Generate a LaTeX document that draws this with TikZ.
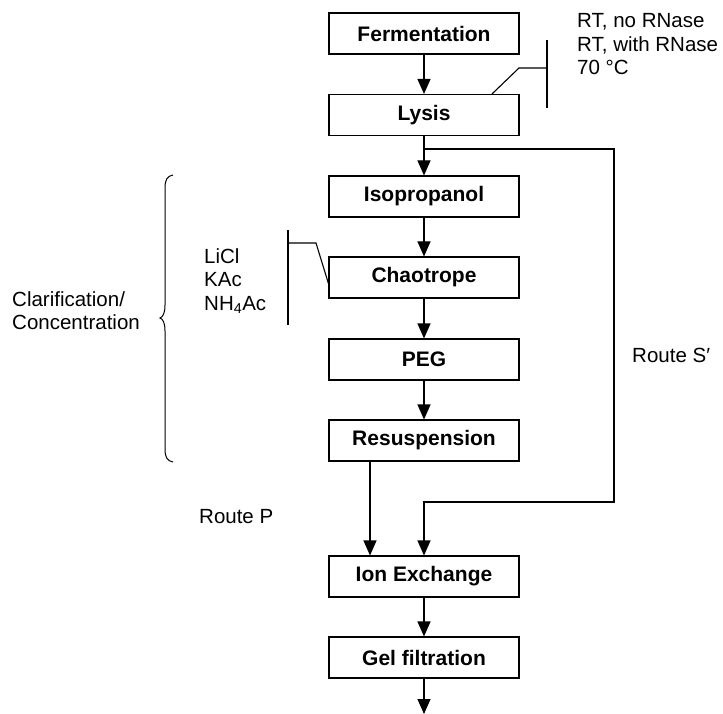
\documentclass[tikz,border=0pt]{standalone}
\usepackage{fontspec}
\setmainfont{Liberation Sans}
\usetikzlibrary{arrows.meta}
\begin{document}
\begin{tikzpicture}[x=1pt,y=-1pt,
  stepbox/.style={draw,line width=1.1pt,minimum width=190pt,minimum height=41pt,inner sep=0pt,font=\fontsize{21}{24}\selectfont\bfseries},
  lab/.style={anchor=base west,inner sep=0pt,font=\fontsize{20.5}{23.5}\selectfont},
  ln/.style={line width=1.1pt},
  arr/.style={line width=1.1pt,-{Triangle[length=15pt,width=13pt]}}]
\useasboundingbox (0,0) rectangle (723,714);
\node[stepbox] (ferm) at (424,33.5) {Fermentation};
\node[stepbox] (lys) at (424,115) {Lysis};
\node[stepbox] (iso) at (424,196.5) {Isopropanol};
\node[stepbox] (chao) at (424,277.5) {Chaotrope};
\node[stepbox] (peg) at (424,359.5) {PEG};
\node[stepbox] (res) at (424,440.5) {Resuspension};
\node[stepbox] (ionx) at (424,576.5) {Ion Exchange};
\node[stepbox] (gel) at (424,657.5) {Gel filtration};
\coordinate (br) at (424,149);
\coordinate (endp) at (424,714);
% arrows
\draw[arr] (ferm) -- (lys);
\draw[arr] (lys) -- (iso);
\draw[arr] (iso) -- (chao);
\draw[arr] (chao) -- (peg);
\draw[arr] (peg) -- (res);
\draw[arr] (ionx) -- (gel);
\draw[arr] (gel) -- (endp);
\draw[arr] (br) -- (614,149) -- (614,502) -- (424,502) -- (ionx.north);
\draw[arr] (res.south -| 370,0) -- (ionx.north -| 370,0);
% lysis annotation
\draw[ln] (547,40) -- (547,108);
\draw[ln] (lys.north -| 492,0) -- (519,68) -- (547,68);
\node[lab] (t1) at (577,28) {RT, no RNase};
\node[lab] (t2) at (577,51.5) {RT, with RNase};
\node[lab] (t3) at (577,75) {70 °C};
% chaotrope annotation
\draw[ln] (288,230) -- (288,325);
\draw[ln] (288,243) -- (316,243) -- ([yshift=15pt]chao.south west);
\node[lab] (c1) at (204,263.3) {LiCl};
\node[lab] (c2) at (204,287) {KAc};
\node[lab] (c3) at (204,310.5) {NH\textsubscript{4}Ac};
% brace
\draw[line width=1pt] (173,175) .. controls (167,176) and (165,180) .. (165,188) -- (165,305) .. controls (165,313) and (163,317) .. (160,318) .. controls (163,319) and (165,323) .. (165,331) -- (165,449) .. controls (165,457) and (167,461) .. (173,462);
\node[lab] (cl1) at (12,306) {Clarification/};
\node[lab] (cl2) at (12,329.5) {Concentration};
\node[lab] (rs) at (632,362) {Route S′};
\node[lab] (rp) at (199,523) {Route P};
\end{tikzpicture}
\end{document}
